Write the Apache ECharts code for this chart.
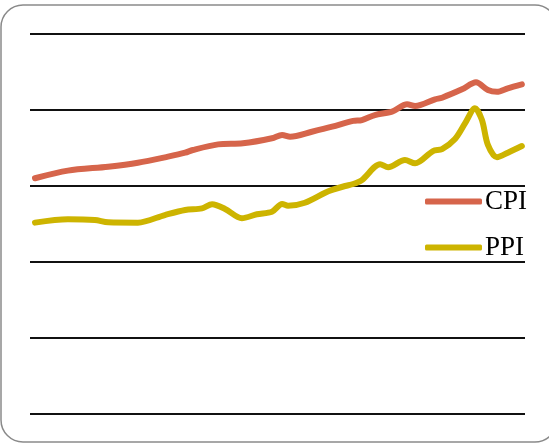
<!DOCTYPE html>
<html>
<head>
<meta charset="utf-8">
<script src="https://cdn.jsdelivr.net/npm/echarts@6/dist/echarts.min.js"></script>
<style>
  html, body { margin: 0; padding: 0; background: #fff; }
  #chart { width: 549px; height: 443px; }
</style>
</head>
<body>
<div id="chart"></div>
<script>
// Monthly index readings, given as [decimal year, index value]
const cpiTimes = [1996.00, 1996.94, 1998.09, 1998.94, 1999.80, 2000.29, 2000.51, 2001.23, 2001.94, 2002.77,
  2003.06, 2003.29, 2003.91, 2004.49, 2005.09, 2005.34, 2005.71, 2006.20, 2006.63, 2006.86,
  2007.43, 2007.63, 2008.20, 2008.60, 2008.94, 2009.20, 2009.51, 2009.91];
const cpiValues = [155.1, 160.1, 162.7, 165.3, 169.3, 171.9, 173.7, 177.4, 178.1, 181.4,
  183.6, 182.4, 185.7, 189.0, 192.8, 193.4, 196.7, 198.9, 203.8, 202.6,
  207.0, 208.1, 213.6, 218.2, 213.2, 212.0, 214.3, 216.9];

const ppiTimes = [1996.00, 1996.94, 1997.71, 1998.09, 1998.94, 1999.71, 2000.29, 2000.77, 2001.06, 2001.43,
  2001.91, 2002.34, 2002.77, 2003.06, 2003.23, 2003.71, 2004.29, 2004.49, 2004.86, 2005.09,
  2005.34, 2005.86, 2006.09, 2006.57, 2006.86, 2007.37, 2007.63, 2008.00, 2008.29, 2008.57,
  2008.77, 2008.94, 2009.20, 2009.51, 2009.91];
const ppiValues = [125.9, 128.1, 127.6, 126.1, 125.9, 130.9, 134.2, 135.3, 138.0, 134.9,
  128.8, 131.4, 133.1, 138.2, 137.0, 139.0, 145.6, 147.4, 150.0, 151.3,
  153.9, 164.3, 162.3, 167.1, 164.9, 173.0, 174.3, 180.9, 191.3, 201.1,
  193.4, 177.0, 168.9, 171.9, 176.3];

const seriesNames = ['CPI', 'PPI'];
const yTicks = [0, 50, 100, 150, 200, 250];

const pairs = (t, v) => t.map((x, i) => [x, v[i]]);

const chart = echarts.init(document.getElementById('chart'), null, { renderer: 'canvas' });
chart.setOption({
  animation: false,
  backgroundColor: '#fff',
  color: ['#D6654B', '#CDB400'],
  grid: { left: 30, right: 24, top: 34, bottom: 29 },
  xAxis: {
    type: 'value',
    min: 1995.857,
    max: 2010.0,
    axisLine: { show: false },
    axisTick: { show: false },
    axisLabel: { show: false },
    splitLine: { show: false }
  },
  yAxis: {
    type: 'value',
    min: yTicks[0],
    max: yTicks[yTicks.length - 1],
    interval: yTicks[1] - yTicks[0],
    axisLine: { show: false },
    axisTick: { show: false },
    axisLabel: { show: false },
    splitLine: { show: true, lineStyle: { color: '#111', width: 2 } }
  },
  legend: {
    data: seriesNames,
    orient: 'vertical',
    left: 425,
    top: 188,
    padding: 0,
    icon: 'roundRect',
    itemWidth: 57,
    itemHeight: 6,
    itemGap: 19,
    textStyle: {
      fontFamily: 'Liberation Serif',
      fontSize: 27,
      color: '#000',
      padding: [0, 0, 0, -2]
    }
  },
  graphic: [{
    type: 'rect',
    silent: true,
    z: -1,
    shape: { x: 1, y: 5, width: 556, height: 437, r: 22 },
    style: { fill: 'none', stroke: '#8a8a8a', lineWidth: 1.5 }
  }],
  series: [
    {
      name: seriesNames[0],
      type: 'line',
      data: pairs(cpiTimes, cpiValues),
      smooth: 0.3,
      showSymbol: false,
      lineStyle: { width: 6, cap: 'round', join: 'round' }
    },
    {
      name: seriesNames[1],
      type: 'line',
      data: pairs(ppiTimes, ppiValues),
      smooth: 0.3,
      showSymbol: false,
      lineStyle: { width: 6, cap: 'round', join: 'round' }
    }
  ]
});
</script>
</body>
</html>
